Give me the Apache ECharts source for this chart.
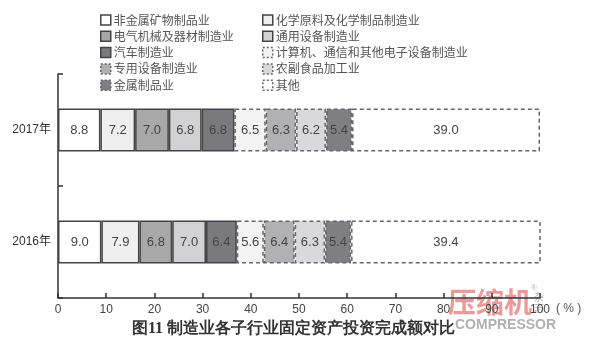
<!DOCTYPE html>
<html><head><meta charset="utf-8">
<script src="https://cdn.jsdelivr.net/npm/echarts@6/dist/echarts.min.js"></script>
<style>html,body{margin:0;padding:0;background:#fff}#c{width:600px;height:364px}</style>
</head><body><div id="c"></div>
<script>
const categories = ['2016年', '2017年'];
const seriesNames = ['非金属矿物制品业','化学原料及化学制品制造业','电气机械及器材制造业','通用设备制造业','汽车制造业','计算机、通信和其他电子设备制造业','专用设备制造业','农副食品加工业','金属制品业','其他'];
const v非金属 = [9.0, 8.8];
const v化学 = [7.9, 7.2];
const v电气 = [6.8, 7.0];
const v通用 = [7.0, 6.8];
const v汽车 = [6.4, 6.8];
const v计算机 = [5.6, 6.5];
const v专用 = [6.4, 6.3];
const v农副 = [6.3, 6.2];
const v金属 = [5.4, 5.4];
const v其他 = [39.4, 39.0];
const seriesValues = [v非金属, v化学, v电气, v通用, v汽车, v计算机, v专用, v农副, v金属, v其他];
const xTicks = [0,10,20,30,40,50,60,70,80,90,100];

const fills = ['#ffffff','#efefef','#a8a8a8','#d2d2d4','#7a7a7e','#f3f3f3','#b1b1b3','#d9d9db','#7e7e83','#ffffff'];
const dashed = [false,false,false,false,false,true,true,true,true,true];

const chart = echarts.init(document.getElementById('c'));
const series = seriesNames.map((n,i)=>({
  name:n, type:'bar', stack:'a', barWidth:43,
  data: seriesValues[i],
  itemStyle:{color:fills[i], borderColor: dashed[i]?'#666':'#444', borderWidth:1.5, borderType: dashed[i]?[4,3]:'solid'},
  label:{show:true, position:'inside', color:'#444', fontSize:13, fontFamily:'Liberation Sans, Arial, sans-serif', formatter:p=>p.value.toFixed(1)},
  emphasis:{disabled:true}
}));
const legendItem = i => ({name:seriesNames[i], itemStyle:{color:fills[i], borderColor: dashed[i]?'#666':'#444', borderWidth:1.5, borderType: dashed[i]?[2,2]:'solid'}});
const legendCommon = {orient:'vertical', top:9, itemWidth:10, itemHeight:10, itemGap:4.3, icon:'rect',
  textStyle:{color:'#555', fontSize:12, lineHeight:12, fontFamily:'Noto Sans CJK SC', padding:[0,0,0,-2]}, selectedMode:false};
chart.setOption({
  animation:false,
  legend:[
    Object.assign({left:95, data:[0,2,4,6,8].map(legendItem)}, legendCommon),
    Object.assign({left:257, data:[1,3,5,7,9].map(legendItem)}, legendCommon)
  ],
  title:{text:'图11 制造业各子行业固定资产投资完成额对比', left:127, top:316,
    textStyle:{fontSize:16, fontWeight:'bold', color:'#333', fontFamily:'serif'}},
  grid:{left:58, right:60, top:74, bottom:66, containLabel:false},
  xAxis:{type:'value', min:0, max:100, interval:10,
    name:'( % )', nameLocation:'end', nameGap:6, nameTextStyle:{color:'#555', fontSize:12, verticalAlign:'top', padding:[5,0,0,0]},
    axisLine:{show:true, lineStyle:{color:'#333', width:1.5}},
    axisTick:{show:true, inside:true, length:5, lineStyle:{color:'#333', width:1.5}},
    axisLabel:{color:'#444', fontSize:12, margin:6, fontFamily:'Liberation Sans, Arial, sans-serif', formatter:v=>xTicks.includes(v)?String(v):''},
    splitLine:{show:false}},
  yAxis:{type:'category', data:categories,
    axisLine:{show:true, lineStyle:{color:'#333', width:1.5}},
    axisTick:{show:true, inside:true, length:5, lineStyle:{color:'#333', width:1.5}},
    axisLabel:{color:'#333', fontSize:12, margin:7, fontFamily:'Liberation Sans, Noto Sans CJK SC, sans-serif'}},
  series: series,
  graphic:[
    {type:'text', left:448, top:288, silent:true, style:{text:'压缩机', fill:'rgba(225,100,100,0.65)', font:'bold 28px "Noto Sans CJK SC"'}},
    {type:'text', left:455, top:318, silent:true, style:{text:'COMPRESSOR', fill:'rgba(150,150,150,0.75)', font:'bold 14px "Liberation Sans"'}},
    {type:'text', left:534, top:292, silent:true, style:{text:'杂\n志', fill:'rgba(160,160,160,0.8)', font:'10px "Noto Sans CJK SC"', lineHeight:11}},
    {type:'text', left:531, top:284, silent:true, style:{text:'®', fill:'rgba(160,160,160,0.8)', font:'8px sans-serif'}}
  ]
});
</script></body></html>
